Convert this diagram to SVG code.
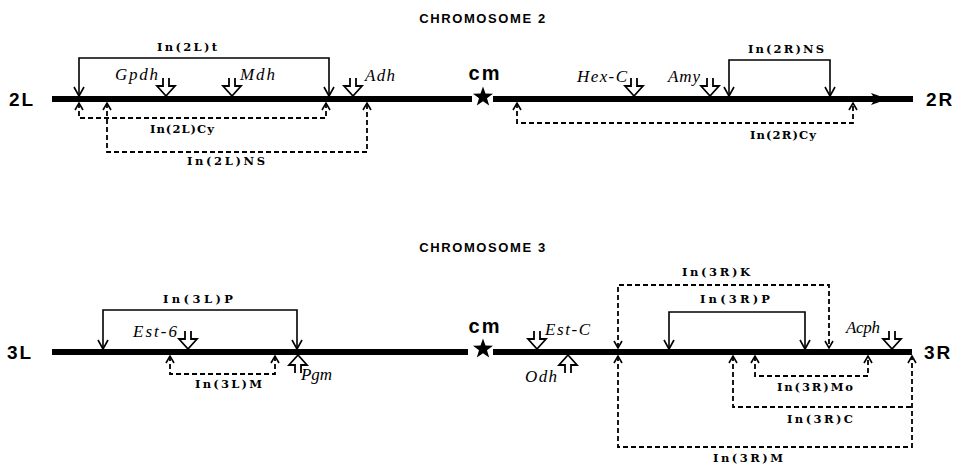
<svg xmlns="http://www.w3.org/2000/svg" xmlns:xlink="http://www.w3.org/1999/xlink" width="969" height="465" viewBox="0 0 969 465">
<style>
  .chrom { stroke:#000; stroke-width:6; fill:none; }
  .title { font-family:"Liberation Sans",Arial,sans-serif; font-weight:bold; font-size:13px; letter-spacing:1.6px; text-anchor:middle; fill:#000; }
  .arm { font-family:"Liberation Sans",Arial,sans-serif; font-weight:bold; font-size:19px; letter-spacing:2px; fill:#000; }
  .cm { font-family:"Liberation Sans",Arial,sans-serif; font-weight:bold; font-size:20px; letter-spacing:2px; text-anchor:middle; fill:#000; }
  .gene { font-family:"Liberation Serif","Times New Roman",serif; font-style:italic; font-size:17px; fill:#000; }
  .inv { font-family:"DejaVu Serif",serif; font-weight:bold; font-size:11.5px; fill:#000; }
  .solid { stroke:#000; stroke-width:1.6; fill:none; marker-start:url(#ahS); marker-end:url(#ahE); }
  .dash { stroke:#000; stroke-width:1.8; fill:none; stroke-dasharray:5 3; marker-start:url(#dhS); marker-end:url(#dhE); }
  .gm { stroke:#000; stroke-width:1.8; fill:none; stroke-linejoin:miter; }
</style>
<defs>
  <marker id="ahE" markerUnits="userSpaceOnUse" orient="auto" refX="0" refY="0" markerWidth="20" markerHeight="20" overflow="visible">
    <path d="M-9,-5 L0,0 L-9,5" stroke="#000" stroke-width="1.6" fill="none"/>
  </marker>
  <marker id="ahS" markerUnits="userSpaceOnUse" orient="auto-start-reverse" refX="0" refY="0" markerWidth="20" markerHeight="20" overflow="visible">
    <path d="M-9,-5 L0,0 L-9,5" stroke="#000" stroke-width="1.6" fill="none"/>
  </marker>
  <marker id="dhE" markerUnits="userSpaceOnUse" orient="auto" refX="0" refY="0" markerWidth="20" markerHeight="20" overflow="visible">
    <path d="M-7,-4 L0,0 L-7,4" stroke="#000" stroke-width="1.6" fill="none"/>
  </marker>
  <marker id="dhS" markerUnits="userSpaceOnUse" orient="auto-start-reverse" refX="0" refY="0" markerWidth="20" markerHeight="20" overflow="visible">
    <path d="M-7,-4 L0,0 L-7,4" stroke="#000" stroke-width="1.6" fill="none"/>
  </marker>
  <path id="gmark" class="gm" d="M-3,-18 V-10 H-9 L0,0 L9,-10 H3 V-18"/>
  <polygon id="star" points="0,-10.5 2.47,-3.4 9.99,-3.24 3.99,1.3 6.17,8.5 0,4.2 -6.17,8.5 -3.99,1.3 -9.99,-3.24 -2.47,-3.4" fill="#000"/>
</defs>
<rect width="969" height="465" fill="#fff"/>

<!-- Chromosome 2 -->
<g id="chromosome2">
  <text class="title" x="483" y="23">CHROMOSOME 2</text>
  <g id="arm2L">
    <text class="arm" x="9" y="106">2L</text>
    <line class="chrom" x1="52" y1="99" x2="472" y2="99"/>
  </g>
  <g id="centromere2">
    <text class="cm" x="485" y="80">cm</text>
    <use xlink:href="#star" x="483" y="97"/>
  </g>
  <g id="arm2R">
    <line class="chrom" x1="493" y1="99" x2="913" y2="99"/>
    <path d="M871,93 L888,99 L871,105 L875,99 Z" fill="#000"/>
    <text class="arm" x="926" y="106">2R</text>
  </g>
  <g id="gene-Gpdh"><use xlink:href="#gmark" x="166" y="96"/><text class="gene" x="115" y="80" textLength="43" lengthAdjust="spacing">Gpdh</text></g>
  <g id="gene-Mdh"><use xlink:href="#gmark" x="232" y="96"/><text class="gene" x="240" y="80" textLength="35" lengthAdjust="spacing">Mdh</text></g>
  <g id="gene-Adh"><use xlink:href="#gmark" x="353" y="96"/><text class="gene" x="365" y="81" textLength="30" lengthAdjust="spacing">Adh</text></g>
  <g id="gene-HexC"><use xlink:href="#gmark" x="634" y="96"/><text class="gene" x="577" y="82" textLength="50" lengthAdjust="spacing">Hex-C</text></g>
  <g id="gene-Amy"><use xlink:href="#gmark" x="710" y="96"/><text class="gene" x="668" y="82" textLength="32" lengthAdjust="spacing">Amy</text></g>
  <g id="label-In2Lt"><text class="inv" x="157" y="51" textLength="60" lengthAdjust="spacing">In(2L)t</text></g>
  <g id="label-In2LCy"><text class="inv" x="150" y="133" textLength="64" lengthAdjust="spacing">In(2L)Cy</text></g>
  <g id="label-In2LNS"><text class="inv" x="187" y="165" textLength="78" lengthAdjust="spacing">In(2L)NS</text></g>
  <g id="label-In2RNS"><text class="inv" x="748" y="53" textLength="76" lengthAdjust="spacing">In(2R)NS</text></g>
  <g id="label-In2RCy"><text class="inv" x="750" y="139" textLength="66" lengthAdjust="spacing">In(2R)Cy</text></g>
</g>

<!-- Chromosome 3 -->
<g id="chromosome3">
  <text class="title" x="483" y="252">CHROMOSOME 3</text>
  <g id="arm3L">
    <text class="arm" x="7" y="359">3L</text>
    <line class="chrom" x1="52" y1="352" x2="468" y2="352"/>
  </g>
  <g id="centromere3">
    <text class="cm" x="485" y="333">cm</text>
    <use xlink:href="#star" x="483" y="349"/>
  </g>
  <g id="arm3R">
    <line class="chrom" x1="493" y1="352" x2="912" y2="352"/>
    <text class="arm" x="924" y="359">3R</text>
  </g>
  <g id="gene-Est6"><use xlink:href="#gmark" x="188" y="349"/><text class="gene" x="133" y="337" textLength="44" lengthAdjust="spacing">Est-6</text></g>
  <g id="gene-Pgm"><use xlink:href="#gmark" transform="translate(298,355) scale(1,-1)"/><text class="gene" x="301" y="380" textLength="31" lengthAdjust="spacing">Pgm</text></g>
  <g id="gene-EstC"><use xlink:href="#gmark" x="537" y="349"/><text class="gene" x="545" y="335" textLength="45" lengthAdjust="spacing">Est-C</text></g>
  <g id="gene-Odh"><use xlink:href="#gmark" transform="translate(568,355) scale(1,-1)"/><text class="gene" x="525" y="382" textLength="32" lengthAdjust="spacing">Odh</text></g>
  <g id="gene-Acph"><use xlink:href="#gmark" x="892" y="349"/><text class="gene" x="846" y="333" textLength="34" lengthAdjust="spacing">Acph</text></g>
  <g id="label-In3LP"><text class="inv" x="163" y="303" textLength="70" lengthAdjust="spacing">In(3L)P</text></g>
  <g id="label-In3LM"><text class="inv" x="195" y="388" textLength="67" lengthAdjust="spacing">In(3L)M</text></g>
  <g id="label-In3RK"><text class="inv" x="682" y="276" textLength="68" lengthAdjust="spacing">In(3R)K</text></g>
  <g id="label-In3RP"><text class="inv" x="700" y="303" textLength="70" lengthAdjust="spacing">In(3R)P</text></g>
  <g id="label-In3RMo"><text class="inv" x="777" y="391" textLength="76" lengthAdjust="spacing">In(3R)Mo</text></g>
  <g id="label-In3RC"><text class="inv" x="787" y="423" textLength="66" lengthAdjust="spacing">In(3R)C</text></g>
  <g id="label-In3RM"><text class="inv" x="713" y="462" textLength="70" lengthAdjust="spacing">In(3R)M</text></g>
</g>

<!-- Inversion connectors -->
<g id="connectors">
  <path id="In2Lt" class="solid" d="M79,96 V58 H329 V96"/>
  <path id="In2LCy" class="dash" d="M79,103 V118 H326 V103"/>
  <path id="In2LNS" class="dash" d="M107,103 V152 H367 V103"/>
  <path id="In2RNS" class="solid" d="M729,96 V60 H830 V96"/>
  <path id="In2RCy" class="dash" d="M517,103 V123 H853 V103"/>
  <path id="In3LP" class="solid" d="M103,349 V310 H297 V349"/>
  <path id="In3LM" class="dash" d="M170,356 V374 H275 V356"/>
  <path id="In3RK" class="dash" d="M618,348 V285 H829 V348"/>
  <path id="In3RP" class="solid" d="M669,349 V312 H805 V349"/>
  <path id="In3RMo" class="dash" d="M755,356 V376 H868 V356"/>
  <path id="In3RC" class="dash" style="marker-end:none" d="M733,356 V407 H912"/>
  <path id="In3RM" class="dash" d="M618,356 V447 H912 V356"/>
</g>
</svg>
